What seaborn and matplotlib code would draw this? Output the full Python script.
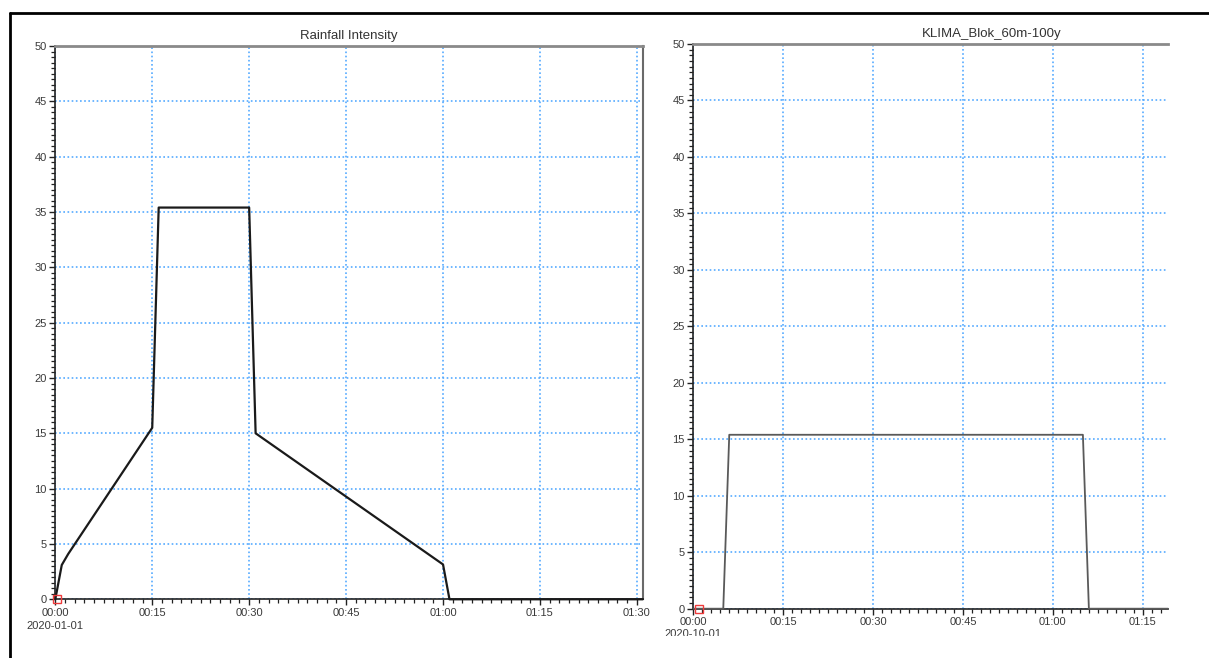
import matplotlib
matplotlib.use("Agg")
import matplotlib.pyplot as plt
from matplotlib.lines import Line2D
from matplotlib.ticker import MultipleLocator
from matplotlib.transforms import Bbox
import seaborn as sns
import pandas as pd

# Rainfall intensity hyetograph (minutes from start, intensity)
rain_minutes = [0, 1, 2, 15, 16, 30, 31, 60, 61, 90.9]
rain_values = [0.0, 3.1, 4.1, 15.5, 35.4, 35.4, 15.0, 3.15, 0.0, 0.0]

# Block rain, 60 min, 100-year return period
block_minutes = [0, 5, 6, 65, 66, 79.2]
block_values = [0.0, 0.0, 15.4, 15.4, 0.0, 0.0]

tick_minutes_left = [0, 15, 30, 45, 60, 75, 90]
tick_labels_left = ["00:00", "00:15", "00:30", "00:45", "01:00", "01:15", "01:30"]
tick_minutes_right = [0, 15, 30, 45, 60, 75]
tick_labels_right = ["00:00", "00:15", "00:30", "00:45", "01:00", "01:15"]
y_ticks = [0, 5, 10, 15, 20, 25, 30, 35, 40, 45, 50]

title_left = "Rainfall Intensity"
title_right = "KLIMA_Blok_60m-100y"
date_left = "2020-01-01"
date_right = "2020-10-01"

sns.set_theme(style="white")
plt.rcParams["font.family"] = ["Liberation Sans", "DejaVu Sans"]

W, H = 1209, 658
fig = plt.figure(figsize=(W / 100, H / 100), dpi=100)
fig.patch.set_facecolor("white")


def px_rect(x0, y0, x1, y1):
    return [x0 / W, 1 - y1 / H, (x1 - x0) / W, (y1 - y0) / H]


ax1 = fig.add_axes(px_rect(55.3, 46, 642.7, 599.3))
ax2 = fig.add_axes(px_rect(693.3, 44, 1168, 608.7))

df_rain = pd.DataFrame({"minute": rain_minutes, "intensity": rain_values})
df_block = pd.DataFrame({"minute": block_minutes, "intensity": block_values})

sns.lineplot(data=df_rain, x="minute", y="intensity", ax=ax1,
             color="#1a1a1a", linewidth=1.6, zorder=3)
sns.lineplot(data=df_block, x="minute", y="intensity", ax=ax2,
             color="#5a5a5a", linewidth=1.3, zorder=3)
for ax in (ax1, ax2):
    for ln in ax.get_lines():
        ln.set_clip_on(False)

grid_color = "#55aaff"
tick_color = "#3a3a3a"

for ax, xmax, xt, xl in [(ax1, 90.9, tick_minutes_left, tick_labels_left),
                         (ax2, 79.2, tick_minutes_right, tick_labels_right)]:
    ax.set_xlim(0, xmax)
    ax.set_ylim(0, 50)
    ax.set_xticks(xt)
    ax.set_xticklabels(xl)
    ax.set_yticks(y_ticks)
    ax.set_yticklabels([str(v) for v in y_ticks])
    ax.xaxis.set_minor_locator(MultipleLocator(1.5))
    ax.yaxis.set_minor_locator(MultipleLocator(0.5))
    ax.set_xlabel("")
    ax.set_ylabel("")
    ax.grid(True, which="major", color=grid_color, linestyle=(0, (1, 1.5)),
            linewidth=1.2, zorder=1)
    ax.tick_params(axis="both", which="major", direction="out", length=4,
                   width=1.0, color="#222222", labelsize=8,
                   labelcolor=tick_color, pad=2,
                   bottom=True, left=True)
    ax.tick_params(axis="both", which="minor", direction="out", length=3,
                   width=0.9, color="#222222", bottom=True, left=True)
    ax.spines["left"].set_color("#222222")
    ax.spines["left"].set_linewidth(1.2)
    ax.spines["bottom"].set_color("#222222")
    ax.spines["bottom"].set_linewidth(1.2)
    ax.spines["top"].set_color("#8a8a8a")
    ax.spines["top"].set_linewidth(2.0)
    # origin marker
    ax.plot([0.3 if ax is ax1 else 1.0], [0], marker="s", markersize=6,
            markerfacecolor="none", markeredgecolor="#ee3b3b",
            markeredgewidth=1.0, clip_on=False, zorder=5)

ax1.spines["right"].set_color("#6a6a6a")
ax1.spines["right"].set_linewidth(1.5)
ax2.spines["right"].set_visible(False)

# titles
fig.text(349 / W, 1 - 36 / H, title_left, ha="center", va="center",
         fontsize=9.5, color="#333333")
fig.text(992 / W, 1 - 34 / H, title_right, ha="center", va="center",
         fontsize=9.5, color="#333333")

# date labels under the first tick
fig.text(55 / W, 1 - 626 / H, date_left, ha="center", va="center",
         fontsize=8, color=tick_color)
t2 = fig.text(693 / W, 1 - 634 / H, date_right, ha="center", va="center",
              fontsize=8, color=tick_color)
t2.set_clip_box(Bbox.from_extents(0, H - 636, W, H))
t2.set_clip_on(True)

# outer frame
fig.add_artist(Line2D([10 / W, 10 / W], [0, 1 - 13 / H], color="black",
                      linewidth=2.0, transform=fig.transFigure))
fig.add_artist(Line2D([10 / W, 1], [1 - 13 / H, 1 - 13 / H], color="black",
                      linewidth=2.0, transform=fig.transFigure))

fig.savefig("out.png", dpi=100)
